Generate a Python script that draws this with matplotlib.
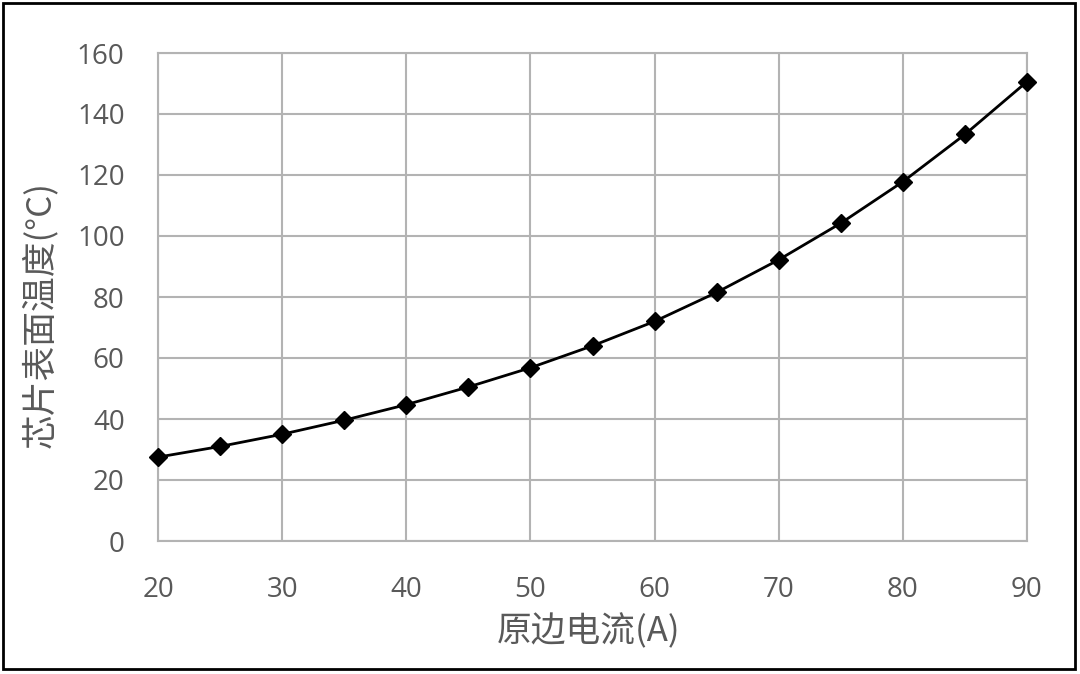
import matplotlib
matplotlib.use('Agg')
from matplotlib import pyplot as plt
from matplotlib.patches import Rectangle

plt.rcParams.update({'font.family': ['Open Sans', 'Noto Sans CJK SC', 'DejaVu Sans']})

# primary current (A) vs chip surface temperature (°C)
current = [20, 25, 30, 35, 40, 45, 50, 55, 60, 65, 70, 75, 80, 85, 90]
temperature = [27.5, 31.0, 35.0, 39.6, 44.7, 50.5, 56.8, 64.0, 72.0,
               81.5, 92.2, 104.2, 117.8, 133.3, 150.6]
x_ticks = [20, 30, 40, 50, 60, 70, 80, 90]
y_ticks = [0, 20, 40, 60, 80, 100, 120, 140, 160]

txt_color = '#595959'
grid_color = '#b3b3b3'

fig = plt.figure(figsize=(10.8, 6.74), dpi=100)
ax = fig.add_axes([158/1080, 1 - 541/674, (1027-158)/1080, (541-53)/674])

ax.plot(current, temperature, color='black', lw=2, marker='D', markersize=9,
        zorder=3, clip_on=False)

ax.set_xlim(20, 90)
ax.set_ylim(0, 160)
ax.set_xticks(x_ticks)
ax.set_yticks(y_ticks)
ax.grid(True, color=grid_color, lw=1.5)
ax.set_axisbelow(True)
for s in ax.spines.values():
    s.set_color(grid_color)
    s.set_linewidth(1.5)
ax.tick_params(axis='both', length=0, labelsize=20, colors=txt_color)
ax.tick_params(axis='x', pad=25)
ax.tick_params(axis='y', pad=24)

ax.set_xlabel('原边电流(A)', fontsize=25, color=txt_color,
              family=['Noto Sans CJK SC', 'DejaVu Sans'])
ax.xaxis.set_label_coords(0.496, -0.150)
ax.set_ylabel('芯片表面温度(°C)', fontsize=25, color=txt_color,
              family=['Noto Sans CJK SC', 'DejaVu Sans'])
ax.yaxis.set_label_coords(-0.115, 0.465)

# outer frame around the whole picture
fig.patches.append(Rectangle((3/1080, 5/674), 1072/1080, 666/674, transform=fig.transFigure,
                             fill=False, edgecolor='black', lw=2))

fig.savefig('out.png', dpi=100)
